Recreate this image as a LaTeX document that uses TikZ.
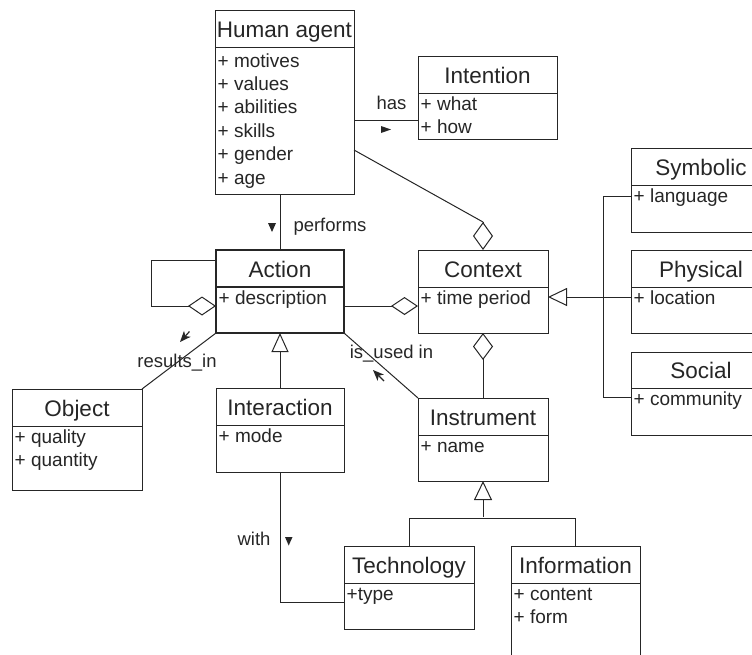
\documentclass[tikz,border=0pt]{standalone}
\usepackage{fontspec}
\setmainfont{Liberation Sans}
\usetikzlibrary{calc,arrows.meta}
\definecolor{ink}{HTML}{262626}
\tikzset{
  classbox/.style={draw=ink,line width=1pt,inner sep=0pt,outer sep=0pt,rectangle,fill=white},
  boldbox/.style={line width=2.2pt},
  titletext/.style={inner sep=0pt,text=ink,font=\fontsize{22.5}{27}\selectfont},
  attrtext/.style={inner sep=0pt,text=ink,font=\fontsize{19}{23}\selectfont},
  lbltext/.style={inner sep=0pt,text=ink,font=\fontsize{18.5}{22}\selectfont,anchor=base},
  conn/.style={draw=ink,line width=1pt},
  gener/.style={conn,-{Triangle[open,fill=white,length=19pt,width=18pt]}},
  marker/.style={fill=ink,draw=none},
  stem/.style={draw=ink,line width=1.2pt}
}
\def\attfirst{17}
\def\attsep{23}
\newcommand{\umlclass}[9][]{%
  \node[classbox,#1,minimum width=#5pt,minimum height=#6pt,anchor=north west] (#2) at (#3,#4) {};
  \draw[draw=ink,line width=1pt,#1] ($(#2.north west)+(0,#7)$) -- ($(#2.north east)+(0,#7)$);
  \node[titletext,anchor=base] (#2-t) at ($(#2.north)+(0,#7-10)$) {#8};
  \foreach \attr [count=\i] in {#9} {
    \node[attrtext,anchor=base west] (#2-\i) at ($(#2.north west)+(2.5,#7+\attfirst+\attsep*\i-\attsep)$) {\attr};
  }
}
\begin{document}
\begin{tikzpicture}[x=1pt,y=-1pt]
\useasboundingbox (0,0) rectangle (752,654);
\clip (0,0) rectangle (752,654);

% classes
\def\attfirst{20}\def\attsep{23.4}
\umlclass{agent}{215}{10}{139}{184}{37}{Human agent}{+ motives,+ values,+ abilities,+ skills,+ gender,+ age}
\def\attfirst{17}\def\attsep{23}
\umlclass{intention}{418}{56}{139}{83}{37}{Intention}{+ what,+ how}
\umlclass{symbolic}{631}{148}{140}{84}{37}{Symbolic}{+ language}
\umlclass{physical}{631}{250}{140}{83}{37}{Physical}{+ location}
\umlclass{social}{631}{352}{140}{83}{36}{Social}{+ community}
\umlclass{context}{418}{250}{130}{83}{37}{Context}{+ time period}
\umlclass[boldbox]{action}{216}{250}{128}{83}{37}{Action}{+ description}
\umlclass{object}{12}{389}{130}{101}{37}{Object}{+ quality,+ quantity}
\umlclass{interaction}{216}{388}{128}{84}{37}{Interaction}{+ mode}
\umlclass{instrument}{418}{398}{130}{83}{37}{Instrument}{+ name}
\umlclass{technology}{344}{546}{130}{83}{37}{Technology}{+type}
\umlclass{information}{511}{546}{129}{130}{37}{Information}{+ content,+ form}

% has
\coordinate (hasL) at ($(agent.north east)+(0,110)$);
\draw[conn] (hasL) -- (hasL -| intention.west);
\node[lbltext] (lhas) at (391.5,109) {has};
\fill[marker] (381,126) -- (391,129.5) -- (381,133) -- cycle;

% Human agent -> Context (aggregation)
\coordinate (agC) at ($(agent.north east)+(0,140)$);
\coordinate (ctxTop) at ($(context.north)+(0,-28)$);
\draw[conn] (agC) -- (ctxTop);
\draw[conn,-{Diamond[open,fill=white,length=28pt,width=20pt]}] (ctxTop) -- (context.north);

% performs
\draw[conn] (action.north) -- (action.north |- agent.south);
\node[lbltext] (lperf) at (330,231) {performs};
\fill[marker] (268,223) -- (276,223) -- (272,232) -- cycle;

% Action self aggregation
\coordinate (s1) at ($(action.north west)+(0,10)$);
\coordinate (s2) at ($(action.north west)+(-65,10)$);
\coordinate (s3) at ($(action.north west)+(-65,56)$);
\coordinate (s4) at ($(action.north west)+(0,56)$);
\draw[conn,-{Diamond[open,fill=white,length=28pt,width=19pt]}] (s1) -- (s2) -- (s3) -- (s4);

% Action -> Context aggregation
\draw[conn,-{Diamond[open,fill=white,length=27pt,width=18pt]}] ($(action.north east)+(0,56)$) -- ($(context.north west)+(0,56)$);

% Symbolic/Physical/Social -> Context generalization
\coordinate (symA) at ($(symbolic.north west)+(0,48)$);
\coordinate (socA) at ($(social.north west)+(0,45)$);
\draw[conn] (symA) -- ++(-28,0) |- (socA);
\draw[gener] ($(physical.north west)+(0,47)$) -- ($(context.north east)+(0,47)$);

% results_in
\draw[conn] (action.south west) -- (object.north east);
\node[lbltext] (lres) at (177,367) {results\_in};
\draw[stem] (185.3,336.1) -- (189.5,331.5);
\fill[marker] (180,342) -- (190.7,336.8) -- (185.35,336.06) -- (184.0,330.8) -- cycle;

% is_used in
\draw[conn] (action.south east) -- (instrument.north west);
\node[lbltext] (luse) at (391.5,358) {is\_used in};
\draw[stem] (378.6,375.6) -- (384,381);
\fill[marker] (373,370) -- (383.96,374.6) -- (378.66,375.66) -- (377.6,380.96) -- cycle;

% Interaction -> Action generalization
\draw[conn,-{Triangle[open,fill=white,length=19pt,width=17pt]}] (interaction.north) -- (action.south);

% Instrument -> Context aggregation
\draw[conn,-{Diamond[open,fill=white,length=27pt,width=20pt]}] (instrument.north) -- (context.south);

% with
\draw[conn] (interaction.south) |- ($(technology.north west)+(0,56)$);
\node[lbltext] (lwith) at (254,545) {with};
\fill[marker] (285,537) -- (292.5,537) -- (288.7,545.5) -- cycle;

% Technology / Information -> Instrument generalization
\coordinate (gj) at ($(instrument.south)+(0,36)$);
\draw[gener] (gj) -- (instrument.south);
\draw[conn] (technology.north) -- ++(0,-28) -| (information.north);
\end{tikzpicture}
\end{document}
